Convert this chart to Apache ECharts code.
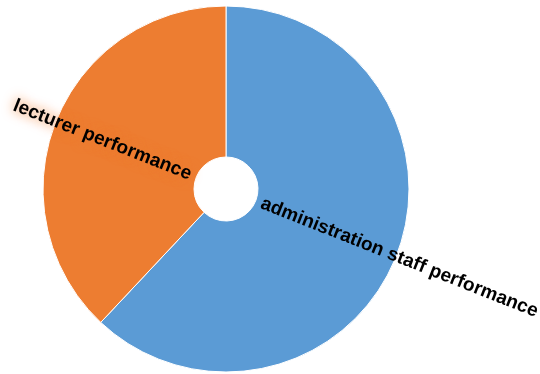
<!DOCTYPE html>
<html>
<head>
<meta charset="utf-8">
<script src="https://cdn.jsdelivr.net/npm/echarts@6/dist/echarts.min.js"></script>
<style>
  html, body { margin: 0; padding: 0; background: #fff; }
  #chart { width: 540px; height: 374px; }
</style>
</head>
<body>
<div id="chart"></div>
<script>
const categories = ['administration staff performance', 'lecturer performance']
const values = [62, 38]
const colors = ['#5b9bd5', '#ed7d31']

const chart = echarts.init(document.getElementById('chart'))

const option = {
  animation: false,
  series: [{
    type: 'pie',
    center: [226, 189],
    radius: [32, 183],
    startAngle: 90,
    clockwise: true,
    avoidLabelOverlap: false,
    itemStyle: {
      borderColor: '#fff',
      borderWidth: 1
    },
    label: {
      show: true,
      position: 'outside',
      rotate: 'radial',
      distanceToLabelLine: 0,
      overflow: 'none',
      color: '#000',
      fontFamily: 'Liberation Sans, Arial, sans-serif',
      fontWeight: 'bold',
      fontSize: 19,
      formatter: '{b}'
    },
    labelLine: {
      show: false,
      length: -145, // pull the label anchor in next to the hole
      length2: 0
    },
    data: categories.map((name, i) => ({
      name,
      value: values[i],
      itemStyle: { color: colors[i] },
      label: i === 1 ? { textShadowColor: colors[i], textShadowBlur: 12 } : {}
    }))
  }]
}

chart.setOption(option)
</script>
</body>
</html>
